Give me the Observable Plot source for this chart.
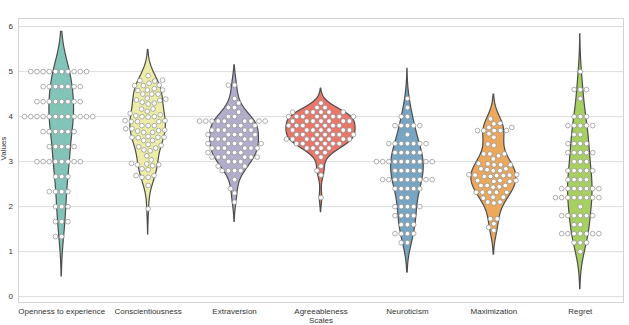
<!DOCTYPE html>
<html>
<head>
<meta charset="utf-8">
<script src="https://cdn.jsdelivr.net/npm/d3@7"></script>
<script src="https://cdn.jsdelivr.net/npm/@observablehq/plot@0.6"></script>
<style>
  body { margin: 0; background: #fff; }
  #chart svg { display: block; }
</style>
</head>
<body>
<div id="chart"></div>
<script>
// Scale names along the x axis, in drawing order
const scaleNames = ["Openness to experience", "Conscientiousness", "Extraversion",
  "Agreeableness", "Neuroticism", "Maximization", "Regret"];
// Set3 colours, one per scale
const set3 = ["#8dd3c7", "#ffffb3", "#bebada", "#fb8072", "#80b1d3", "#fdb462", "#b3de69"];
const yTicks = [0, 1, 2, 3, 4, 5, 6];

// Discrete scales: response levels and how many respondents sit on each level
const opennessLevels = [5, 4.667, 4.333, 4, 3.667, 3.333, 3, 2.667, 2.333, 2, 1.667, 1.333];
const opennessCounts = [10, 7, 8, 12, 6, 5, 8, 3, 4, 3, 3, 2];

const extraversionLevels = [4.7, 4.4, 4.3, 4.2, 4.1, 4.0, 3.9, 3.8, 3.7, 3.6, 3.5, 3.4, 3.3, 3.2, 3.1, 3.0, 2.9, 2.8, 2.6, 2.4, 2.3, 2.1];
const extraversionCounts = [2, 1, 1, 2, 1, 2, 9, 4, 5, 5, 5, 5, 6, 4, 6, 3, 2, 4, 1, 1, 1, 1];

const agreeablenessLevels = [4.3, 4.2, 4.1, 4.0, 3.9, 3.8, 3.7, 3.6, 3.5, 3.4, 3.3, 3.2, 3.1, 2.9, 2.8, 2.7, 2.2];
const agreeablenessCounts = [1, 2, 6, 8, 7, 7, 7, 7, 8, 6, 4, 2, 1, 1, 1, 1, 1];

const neuroticismLevels = [4.4, 4.2, 4.0, 3.8, 3.6, 3.4, 3.2, 3.0, 2.8, 2.6, 2.4, 2.2, 2.0, 1.8, 1.6, 1.4, 1.2];
const neuroticismCounts = [1, 1, 2, 5, 1, 7, 5, 10, 5, 9, 5, 2, 5, 4, 3, 4, 2];

const regretLevels = [5.0, 4.6, 4.4, 4.0, 3.8, 3.6, 3.4, 3.2, 3.0, 2.8, 2.6, 2.4, 2.2, 2.0, 1.8, 1.6, 1.4, 1.2, 1.0];
const regretCounts = [1, 3, 1, 3, 5, 2, 4, 5, 3, 5, 4, 7, 8, 1, 6, 2, 7, 3, 1];

// Near-continuous scales: individual scores
const conscientiousness = [
  4.91, 4.81, 4.79, 4.80, 4.70, 4.69, 4.74, 4.69,
  4.59, 4.59, 4.62, 4.58, 4.50, 4.50, 4.50, 4.37, 4.39, 4.41, 4.36,
  4.28, 4.30, 4.32, 4.17, 4.17, 4.07, 4.12,
  4.04, 4.00, 3.99, 4.00, 4.02, 3.89, 3.89, 3.89, 3.91, 3.91, 3.80, 3.80, 3.80, 3.73, 3.73,
  3.68, 3.65, 3.65, 3.69, 3.70, 3.54, 3.56, 3.54, 3.53, 3.54, 3.47, 3.47,
  3.36, 3.38, 3.33, 3.30, 3.24, 3.26,
  3.13, 3.04, 2.93, 2.91, 2.93, 2.95, 2.96,
  2.84, 2.82, 2.69, 2.65, 2.65, 2.69,
  2.47, 1.95
];
const maximization = [
  3.95, 3.85, 3.84, 3.76, 3.76,
  3.69, 3.69, 3.69, 3.69, 3.69, 3.62,
  3.54, 3.39, 3.36,
  3.17, 3.17, 3.17, 3.13, 3.06,
  2.95, 2.93, 2.96, 2.93, 2.93, 2.84, 2.80, 2.84, 2.80, 2.82,
  2.70, 2.69, 2.71, 2.67, 2.69, 2.67, 2.71, 2.70,
  2.58, 2.56, 2.58, 2.56, 2.58, 2.47, 2.44, 2.47, 2.43, 2.47,
  2.32, 2.32, 2.32, 2.32, 2.32, 2.21, 2.19, 2.21, 2.10, 2.08, 2.10,
  1.73, 1.73, 1.62, 1.54, 1.47
];

const expand = (levels, counts) => levels.flatMap((v, i) => Array(counts[i]).fill(v));
const scoresByScale = [
  expand(opennessLevels, opennessCounts),
  conscientiousness,
  expand(extraversionLevels, extraversionCounts),
  expand(agreeablenessLevels, agreeablenessCounts),
  expand(neuroticismLevels, neuroticismCounts),
  maximization,
  expand(regretLevels, regretCounts)
];

// Layout
const W = 629, H = 325;
const mL = 18, mR = 6, mT = 18, mB = 23;
const yDomain = [-0.13, 6.18];
const kx = (W - mL - mR) / 7;                        // px per category unit
const ky = (H - mT - mB) / (yDomain[1] - yDomain[0]); // px per score unit

// Violin fill: Set3, slightly deepened
const fills = set3.map(c => d3.rgb(c).darker(0.2).formatHex());

// Gaussian KDE, Scott bandwidth, cut = 2, 100 grid points
function kde(values, gridsize = 100, cut = 2) {
  const n = values.length;
  const bw = Math.pow(n, -1 / 5) * d3.deviation(values);
  const lo = d3.min(values) - cut * bw, hi = d3.max(values) + cut * bw;
  const norm = 1 / (bw * Math.sqrt(2 * Math.PI));
  return d3.range(gridsize).map(i => {
    const y = lo + (hi - lo) * i / (gridsize - 1);
    return {y, d: norm * d3.mean(values, v => Math.exp(-0.5 * ((y - v) / bw) ** 2))};
  });
}
const densities = scoresByScale.map(v => kde(v));
const maxDensity = d3.max(densities, ds => d3.max(ds, p => p.d));
// "area" scaling: common factor so the densest violin is 0.8 wide
const violinRows = densities.flatMap((ds, i) => ds.map(p => ({
  i, y: p.y, x1: i - 0.4 * p.d / maxDensity, x2: i + 0.4 * p.d / maxDensity, fill: fills[i]
})));

// Beeswarm in pixel space: lowest scores first, nearest free offset, left wins ties
const diam = 5.9;
function swarm(values) {
  const pts = values.map(v => ({v, py: v * ky})).sort((a, b) => a.v - b.v);
  const placed = [];
  for (const p of pts) {
    const near = placed.filter(q => Math.abs(q.py - p.py) < diam);
    const cands = [0];
    for (const q of near) {
      const dx = Math.sqrt(Math.max(diam * diam - (p.py - q.py) ** 2, 0)) * 1.05;
      cands.push(q.ox - dx, q.ox + dx);
    }
    cands.sort((a, b) => (Math.abs(a) - Math.abs(b)) || (a - b));
    for (const c of cands) {
      if (near.every(q => (q.ox - c) ** 2 + (q.py - p.py) ** 2 >= diam * diam * 0.999)) { p.ox = c; break; }
    }
    placed.push(p);
  }
  return placed;
}
const points = scoresByScale.flatMap((vals, i) => swarm(vals).map(p => ({v: p.v, x: i + p.ox / kx})));

const font = "'Liberation Sans', Arial, sans-serif";
const chart = Plot.plot({
  width: W, height: H,
  marginLeft: mL, marginRight: mR, marginTop: mT, marginBottom: mB,
  x: {domain: [-0.5, 6.5], axis: null},
  y: {domain: yDomain, axis: null},
  color: {type: "identity"},
  style: {fontFamily: font, fontSize: "8px", color: "#333", background: "#fff"},
  marks: [
    Plot.ruleY(yTicks, {stroke: "#dcdcdc", strokeWidth: 1}),
    Plot.frame({stroke: "#d2d2d2", strokeWidth: 1}),
    Plot.areaX(violinRows, {y: "y", x1: "x1", x2: "x2", z: "i", fill: "fill",
      stroke: "#4d4d4d", strokeWidth: 1.2, curve: "linear"}),
    Plot.dot(points, {x: "x", y: "v", r: 2.35, fill: "white", stroke: "#8c8c8c", strokeWidth: 0.7}),
    Plot.axisY(yTicks, {tickSize: 0, tickPadding: 5.5, label: null, fontSize: 8}),
    Plot.axisX(d3.range(7), {tickFormat: i => scaleNames[i], tickSize: 0, tickPadding: 5.5, label: null, fontSize: 8}),
    Plot.text(["Scales"], {frameAnchor: "bottom", dy: 14.5, lineAnchor: "top", fontSize: 8, fill: "#333"}),
    Plot.text(["Values"], {frameAnchor: "left", dx: -12.5, rotate: -90, lineAnchor: "bottom", fontSize: 8, fill: "#333"})
  ]
});
document.getElementById("chart").append(chart);
</script>
</body>
</html>
